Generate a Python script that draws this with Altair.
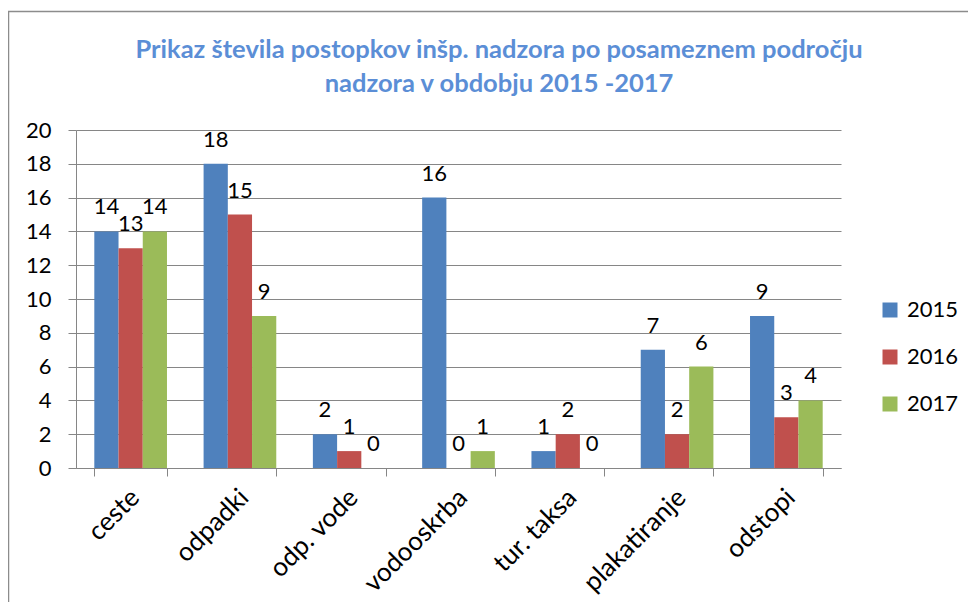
import altair as alt
import pandas as pd

categories = ["ceste", "odpadki", "odp. vode", "vodooskrba", "tur. taksa", "plakatiranje", "odstopi"]
years = ["2015", "2016", "2017"]
v2015 = [14, 18, 2, 16, 1, 7, 9]
v2016 = [13, 15, 1, 0, 2, 2, 3]
v2017 = [14, 9, 0, 1, 0, 6, 4]
colors = ["#4F81BD", "#C0504D", "#9BBB59"]
title_line1 = "Prikaz števila postopkov inšp. nadzora po posameznem področju"
title_line2 = "nadzora v obdobju 2015 -2017"

rows = []
for yr, vals in zip(years, [v2015, v2016, v2017]):
    for c, v in zip(categories, vals):
        rows.append({"cat": c, "year": yr, "value": v})
df = pd.DataFrame(rows)

FONT = "Lato"
GRAY = "#868686"

x = alt.X("cat:N", sort=categories,
          scale=alt.Scale(paddingInner=0.335, paddingOuter=0.1675),
          axis=alt.Axis(title=None, tickBand="extent", labelAngle=-45, labelAlign="right",
                        labelBaseline="top", labelFont=FONT, labelFontSize=26, labelColor="black",
                        domainColor=GRAY, tickColor=GRAY, tickSize=8, labelPadding=8,
                        labelOffset=-5, grid=False))
xo = alt.XOffset("year:N", sort=years, scale=alt.Scale(paddingInner=0, paddingOuter=0))
y = alt.Y("value:Q", scale=alt.Scale(domain=[0, 20], nice=False),
          axis=alt.Axis(title=None, values=list(range(0, 21, 2)), grid=True, gridColor=GRAY,
                        domainColor=GRAY, tickColor=GRAY, tickSize=8, labelPadding=17,
                        labelFont=FONT, labelFontSize=22, labelColor="black"))

bars = alt.Chart(df).mark_bar().encode(
    x=x, xOffset=xo, y=y,
    color=alt.Color("year:N", sort=years, scale=alt.Scale(domain=years, range=colors),
                    legend=alt.Legend(title=None, orient="none", legendX=803, legendY=169,
                                      symbolType="square", symbolSize=225, symbolStrokeWidth=0,
                                      labelFont=FONT, labelFontSize=22, labelColor="black",
                                      rowPadding=25, labelOffset=6, padding=0)),
)

labels = alt.Chart(df).mark_text(dy=-17, baseline="alphabetic", align="center",
                                 font=FONT, fontSize=22, color="black").encode(
    x=x, xOffset=xo, y=y, text="value:Q")

border = alt.Chart(pd.DataFrame({"a": [0]})).mark_rect(
    fill=None, stroke="#8C8C8C", strokeWidth=1.5).encode(
    x=alt.value(-67.5), x2=alt.value(1000), y=alt.value(-118.5), y2=alt.value(600))

TCOL = "#5B8ED6"
t1 = alt.Chart(pd.DataFrame({"t": [title_line1]})).mark_text(
    font=FONT, fontSize=25.5, fontWeight="bold", color=TCOL, align="center", baseline="middle").encode(
    text="t:N", x=alt.value(423), y=alt.value(-80))
t2 = alt.Chart(pd.DataFrame({"t": [title_line2]})).mark_text(
    font=FONT, fontSize=25.5, fontWeight="bold", color=TCOL, align="center", baseline="middle").encode(
    text="t:N", x=alt.value(423), y=alt.value(-46))

chart = alt.layer(border, t1, t2, bars, labels).properties(
    width=765, height=338,
    autosize=alt.AutoSizeParams(type="none"),
    padding={"left": 68, "top": 122, "right": 127, "bottom": 134},
).configure_view(stroke=None)

chart.save("out.html", embed_options={"renderer": "svg", "actions": False})
